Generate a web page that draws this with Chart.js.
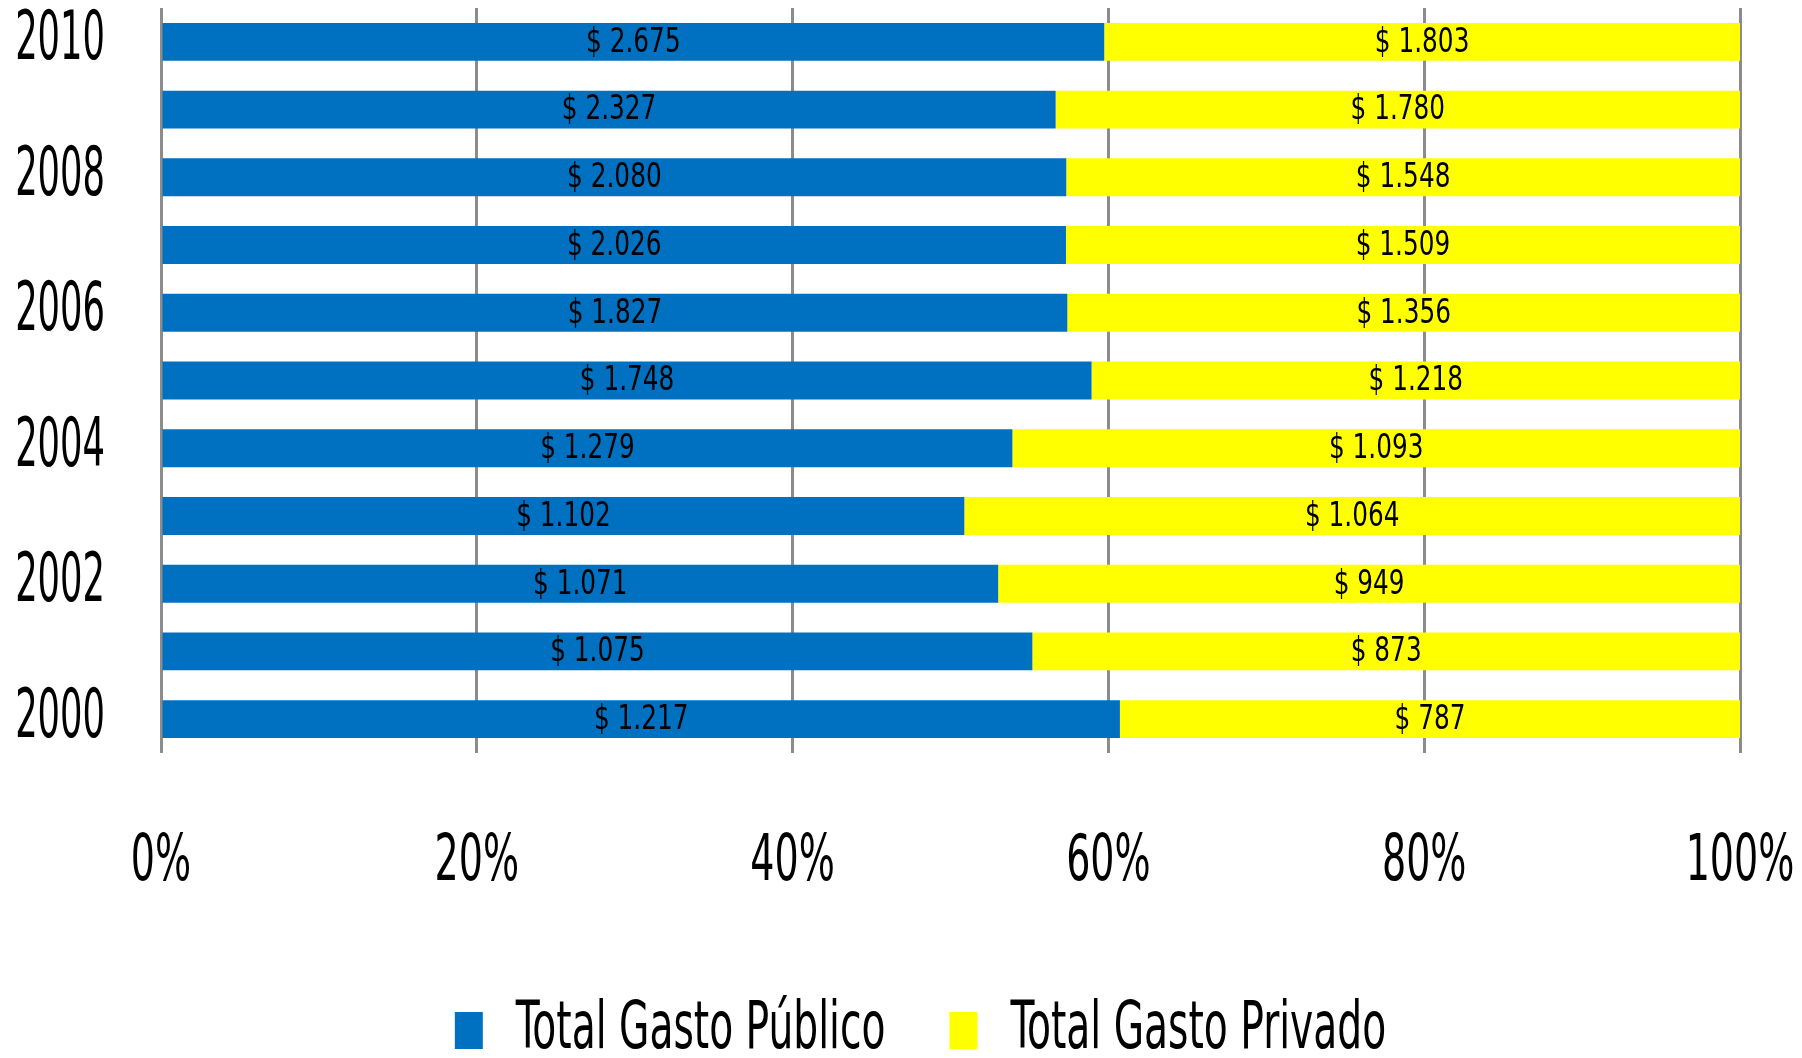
<!DOCTYPE html>
<html>
<head>
<meta charset="utf-8">
<style>
  html, body { margin: 0; padding: 0; background: #ffffff; }
  #c { display: block; }
</style>
<script src="https://cdn.jsdelivr.net/npm/chart.js@4.4.1/dist/chart.umd.min.js"></script>
</head>
<body>
<canvas id="c" width="1802" height="1058"></canvas>
<script>
// ---- data ----
const years = ['2010', '2009', '2008', '2007', '2006', '2005', '2004', '2003', '2002', '2001', '2000'];
const yearTickLabels = ['2010', '', '2008', '', '2006', '', '2004', '', '2002', '', '2000'];
const gastoPublico = [2675, 2327, 2080, 2026, 1827, 1748, 1279, 1102, 1071, 1075, 1217];
const gastoPrivado = [1803, 1780, 1548, 1509, 1356, 1218, 1093, 1064, 949, 873, 787];
const seriesNames = ['Total Gasto Público', 'Total Gasto Privado'];
const percentTicks = [0, 20, 40, 60, 80, 100];

// ---- condensed text rendering (horizontal stretch per font size) ----
const FONT = "'DejaVu Sans Condensed', 'DejaVu Sans', sans-serif";
const STRETCH = { 67: 0.586, 64: 0.66, 66: 0.66, 34: 0.81 };
const canvas = document.getElementById('c');
const ctx = canvas.getContext('2d');
const origFill = ctx.fillText.bind(ctx);
const origMeasure = ctx.measureText.bind(ctx);
function stretchFor(font) {
  const m = /(\d+(?:\.\d+)?)px/.exec(font || '');
  const s = m ? Math.round(parseFloat(m[1])) : 0;
  return STRETCH[s] || 1;
}
ctx.fillText = function (text, x, y, maxWidth) {
  const sx = stretchFor(this.font);
  if (sx === 1) {
    return maxWidth === undefined ? origFill(text, x, y) : origFill(text, x, y, maxWidth);
  }
  this.save();
  this.translate(x, y);
  this.scale(sx, 1);
  if (maxWidth === undefined) origFill(text, 0, 0); else origFill(text, 0, 0, maxWidth / sx);
  this.restore();
};
ctx.measureText = function (text) {
  const m = origMeasure(text);
  const sx = stretchFor(this.font);
  if (sx === 1) return m;
  return {
    width: m.width * sx,
    actualBoundingBoxLeft: m.actualBoundingBoxLeft * sx,
    actualBoundingBoxRight: m.actualBoundingBoxRight * sx,
    actualBoundingBoxAscent: m.actualBoundingBoxAscent,
    actualBoundingBoxDescent: m.actualBoundingBoxDescent,
    fontBoundingBoxAscent: m.fontBoundingBoxAscent,
    fontBoundingBoxDescent: m.fontBoundingBoxDescent
  };
};

// ---- derived 100% values ----
const totals = gastoPublico.map((v, i) => v + gastoPrivado[i]);
const pctPublico = gastoPublico.map((v, i) => v / totals[i] * 100);
const pctPrivado = gastoPrivado.map((v, i) => v / totals[i] * 100);
const rawValues = [gastoPublico, gastoPrivado];

function fmt(v) {
  return '$ ' + String(v).replace(/\B(?=(\d{3})+(?!\d))/g, '.');
}

const valueLabels = {
  id: 'valueLabels',
  afterDatasetsDraw(chart) {
    const c = chart.ctx;
    c.save();
    c.font = '34px ' + FONT;
    c.fillStyle = '#000000';
    c.textAlign = 'center';
    c.textBaseline = 'middle';
    chart.data.datasets.forEach((ds, di) => {
      const meta = chart.getDatasetMeta(di);
      meta.data.forEach((bar, i) => {
        const cx = (bar.x + bar.base) / 2;
        c.fillText(fmt(rawValues[di][i]), cx, bar.y + 1);
      });
    });
    c.restore();
  }
};

// shift the legend band so that its centred row sits where the original one does
const legendShift = {
  id: 'legendShift',
  afterLayout(chart) {
    if (chart.legend) chart.legend.left += 101;
  }
};

new Chart(ctx, {
  type: 'bar',
  data: {
    labels: years,
    datasets: [
      { label: seriesNames[0], data: pctPublico, backgroundColor: '#0070C0', borderWidth: 0 },
      { label: seriesNames[1], data: pctPrivado, backgroundColor: '#FFFF00', borderWidth: 0 }
    ]
  },
  options: {
    indexAxis: 'y',
    responsive: false,
    animation: false,
    devicePixelRatio: 1,
    datasets: { bar: { categoryPercentage: 1, barPercentage: 0.56 } },
    layout: { padding: { top: 8, right: 62, bottom: 0, left: 0 } },
    scales: {
      x: {
        stacked: true,
        min: 0,
        max: 100,
        afterBuildTicks(scale) { scale.ticks = percentTicks.map(v => ({ value: v })); },
        afterFit(scale) { scale.height = 180.5; scale.paddingLeft = 0; scale.paddingRight = 0; },
        grid: { color: '#8c8c8c', lineWidth: 3, drawTicks: false },
        border: { display: false },
        ticks: {
          padding: 78,
          color: '#000000',
          font: { family: FONT, size: 64, lineHeight: 1 },
          maxRotation: 0,
          callback: v => v + '%'
        }
      },
      y: {
        stacked: true,
        afterFit(scale) { scale.width = 161; scale.paddingTop = 0; scale.paddingBottom = 0; },
        grid: { display: false, drawTicks: false },
        border: { display: false },
        ticks: {
          padding: 56,
          color: '#000000',
          autoSkip: false,
          font: { family: FONT, size: 67, lineHeight: 0.2 },
          callback: (v, i) => yearTickLabels[i]
        }
      }
    },
    plugins: {
      tooltip: { enabled: false },
      legend: {
        position: 'bottom',
        maxHeight: 124.5,
        labels: {
          boxWidth: 28,
          boxHeight: 37,
          padding: 64,
          color: '#000000',
          font: { family: FONT, size: 66 }
        }
      }
    }
  },
  plugins: [valueLabels, legendShift]
});
</script>
</body>
</html>
